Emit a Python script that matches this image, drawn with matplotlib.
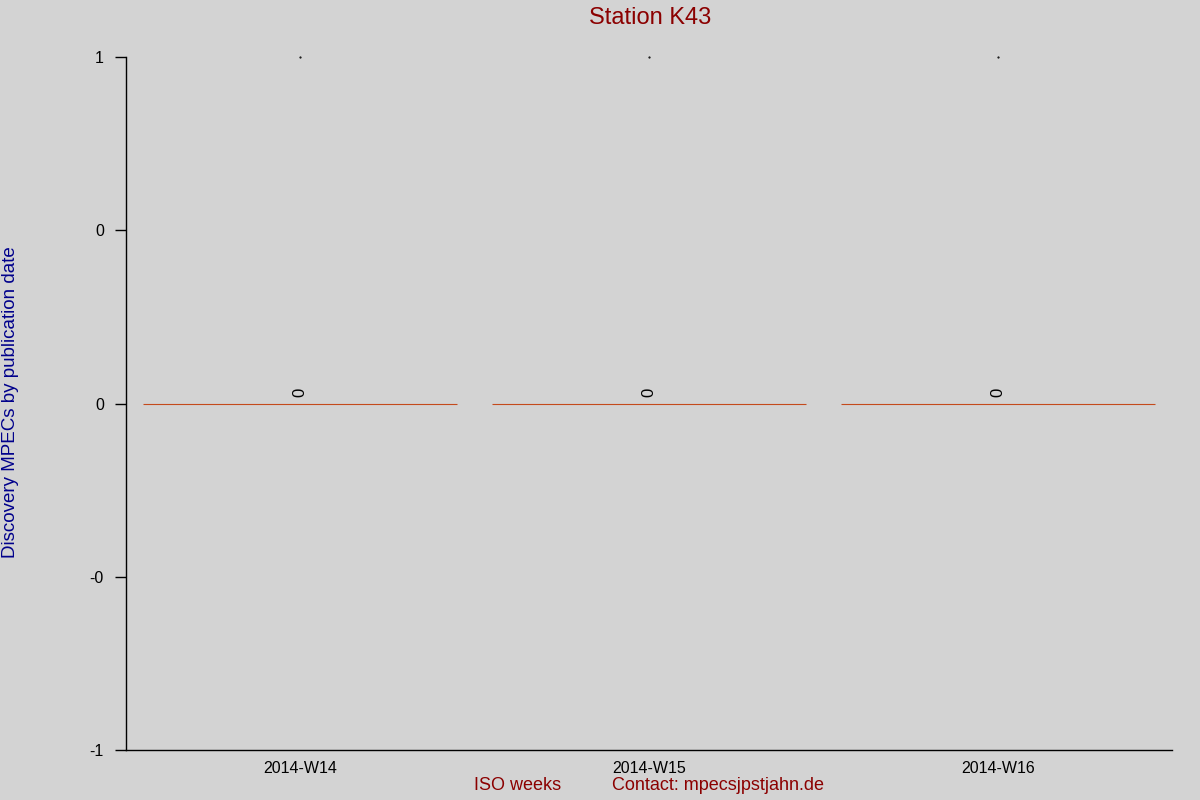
import numpy as np
import matplotlib
matplotlib.use("Agg")
import matplotlib.pyplot as plt

plt.rcParams['font.family'] = ['Liberation Sans', 'DejaVu Sans']

# data
weeks = ["2014-W14", "2014-W15", "2014-W16"]
mpecs = [0, 0, 0]
y_ticks = [-1, -0.5, 0, 0.5, 1]

bg = "#d3d3d3"
bar_color = "#c44a1c"
dark_red = "#8b0000"
dark_blue = "#00008b"

fig = plt.figure(figsize=(12, 8), dpi=100, facecolor=bg)
ax = fig.add_axes([0.105, 0.0625, 0.8717, 0.86625], facecolor=bg)

x = np.arange(len(weeks))
# bars of height zero show up as a thin line
ax.bar(x, mpecs, width=0.9, color=bar_color, edgecolor=bar_color, linewidth=0.8)
for xi, v in zip(x, mpecs):
    ax.text(xi, v + 0.02, f"{v}", rotation=90, ha="center", va="bottom",
            fontsize=12, color="black")
# tiny marks at the top of each column
ax.scatter(x, [y_ticks[-1]] * len(x), s=0.3, color="black", clip_on=False)

ax.set_xlim(-0.5, len(weeks) - 0.5)
ax.set_ylim(y_ticks[0], y_ticks[-1])
ax.set_yticks(y_ticks)
ax.set_yticklabels(["%.0f" % t for t in y_ticks])
ax.set_xticks(x)
ax.set_xticklabels(weeks)

for s in ["top", "right"]:
    ax.spines[s].set_visible(False)
ax.spines["left"].set_linewidth(1.0)
ax.spines["bottom"].set_linewidth(1.0)
ax.tick_params(axis="y", direction="out", length=8, width=1, labelsize=11.5, pad=8)
ax.tick_params(axis="x", length=0, labelsize=11.5, pad=8)

fig.text(0.5417, 0.978, "Station K43", ha="center", va="center",
         fontsize=17, color=dark_red)
fig.text(0.009, 0.497, "Discovery MPECs by publication date", rotation=90,
         ha="center", va="center", fontsize=13.5, color=dark_blue)
fig.text(0.431, 0.018, "ISO weeks", ha="center", va="center",
         fontsize=13, color=dark_red)
fig.text(0.5983, 0.018, "Contact: mpecsjpstjahn.de", ha="center", va="center",
         fontsize=13, color=dark_red)

fig.savefig("out.png", dpi=100, facecolor=bg)
